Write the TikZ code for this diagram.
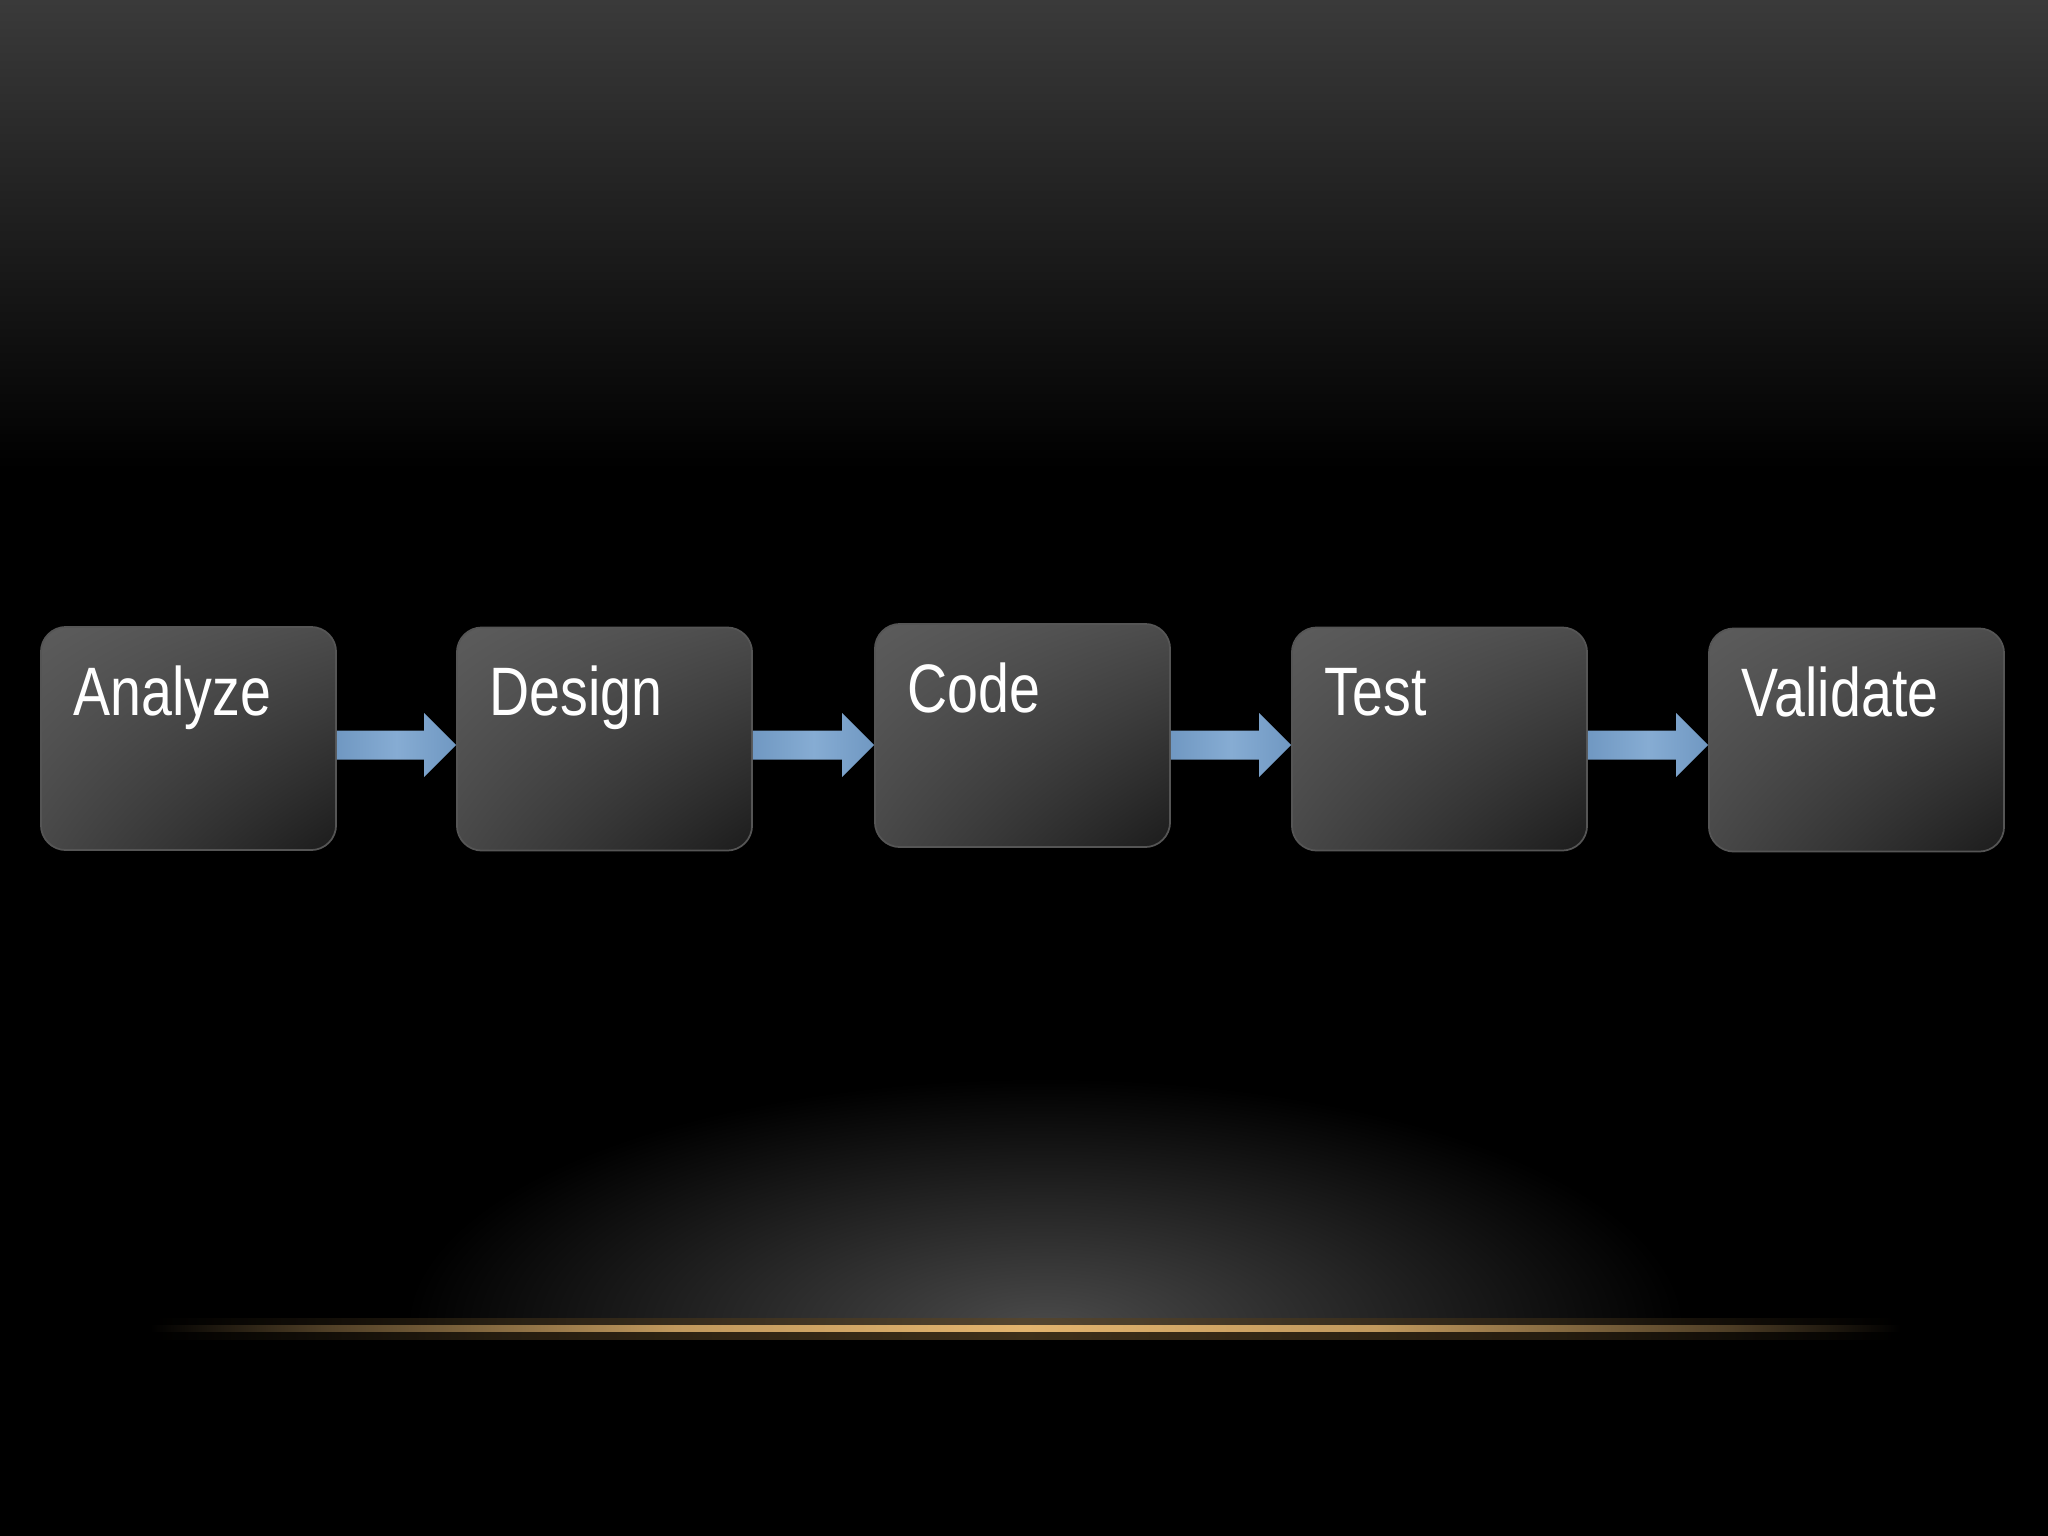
\documentclass[tikz,border=0pt]{standalone}
\usepackage{fontspec}
\usepackage{graphicx}
\setmainfont{Liberation Sans}
\usetikzlibrary{calc,shadings}
\definecolor{bgtop}{HTML}{3A3A3A}
\definecolor{boxUL}{HTML}{5C5C5C}
\definecolor{boxUR}{HTML}{4C4C4C}
\definecolor{boxLL}{HTML}{484848}
\definecolor{boxLR}{HTML}{1C1C1C}
\definecolor{boxedge}{HTML}{555555}
\definecolor{arrowedge}{HTML}{7098C2}
\definecolor{arrowmid}{HTML}{86ACD3}
\definecolor{glowgray}{HTML}{4A4A4A}
\definecolor{gold}{HTML}{E3B46E}
\definecolor{goldglow}{HTML}{5A4526}
\pgfdeclarehorizontalshading{goldline}{100bp}{color(0bp)=(black); color(25bp)=(black);
  color(30bp)=(gold!35!black); color(40bp)=(gold!85!black); color(50bp)=(gold);
  color(60bp)=(gold!85!black); color(70bp)=(gold!35!black); color(75bp)=(black); color(100bp)=(black)}
\pgfdeclarehorizontalshading{goldhalo}{100bp}{color(0bp)=(black); color(25bp)=(black);
  color(35bp)=(goldglow!60!black); color(50bp)=(goldglow); color(65bp)=(goldglow!60!black);
  color(75bp)=(black); color(100bp)=(black)}
\newcommand\flowarrow[2]{%
  \shade[flow] ($(#1.east |- mid)+(0,-14.5)$) -- ($(#2.west |- mid)+(-32,-14.5)$)
    -- ($(#2.west |- mid)+(-32,-32)$) -- (#2.west |- mid)
    -- ($(#2.west |- mid)+(-32,32)$) -- ($(#2.west |- mid)+(-32,14.5)$)
    -- ($(#1.east |- mid)+(0,14.5)$) -- cycle;}
\begin{document}
\begin{tikzpicture}[x=0.01cm,y=-0.01cm,
  stepbox/.style={rectangle, rounded corners=0.25cm, minimum width=2.95cm,
    minimum height=2.23cm, inner sep=0pt, draw=boxedge, line width=0.5pt, shade,
    upper left=boxUL, upper right=boxUR, lower left=boxLL, lower right=boxLR},
  steplabel/.style={anchor=base west, inner sep=0pt, text=white,
    font=\fontsize{19.5}{22}\selectfont},
  flow/.style={left color=arrowedge, right color=arrowedge, middle color=arrowmid}]
\useasboundingbox (0,0) rectangle (2048,1536);
% background
\fill[black] (0,0) rectangle (2048,1536);
\shade[top color=bgtop, bottom color=black] (0,0) rectangle (2048,470);
% bottom glow
\begin{scope}
  \clip (0,900) rectangle (2048,1328);
  \shade[inner color=glowgray, outer color=black] (1045,1328) ellipse (640 and 250);
\end{scope}
\shade[shading=goldhalo, opacity=0.7] (150,1318) rectangle (1900,1339);
\shade[shading=goldline] (150,1325) rectangle (1900,1331);
% boxes
\coordinate (mid) at (0,745);
\node[stepbox] (A) at (188.5,738.5) {};
\node[stepbox] (D) at (604.5,739) {};
\node[stepbox] (C) at (1022.5,735.5) {};
\node[stepbox] (T) at (1439.5,739) {};
\node[stepbox] (V) at (1856.5,740) {};
% labels
\node[steplabel] (At) at ($(A.north west)+(33,89)$) {\scalebox{0.81}[1]{Analyze}};
\node[steplabel] (Dt) at ($(D.north west)+(33,89)$) {\scalebox{0.81}[1]{Design}};
\node[steplabel] (Ct) at ($(C.north west)+(33,89)$) {\scalebox{0.81}[1]{Code}};
\node[steplabel] (Tt) at ($(T.north west)+(33,89)$) {\scalebox{0.81}[1]{Test}};
\node[steplabel] (Vt) at ($(V.north west)+(33,89)$) {\scalebox{0.81}[1]{Validate}};
% arrows
\flowarrow{A}{D}
\flowarrow{D}{C}
\flowarrow{C}{T}
\flowarrow{T}{V}
\end{tikzpicture}
\end{document}
